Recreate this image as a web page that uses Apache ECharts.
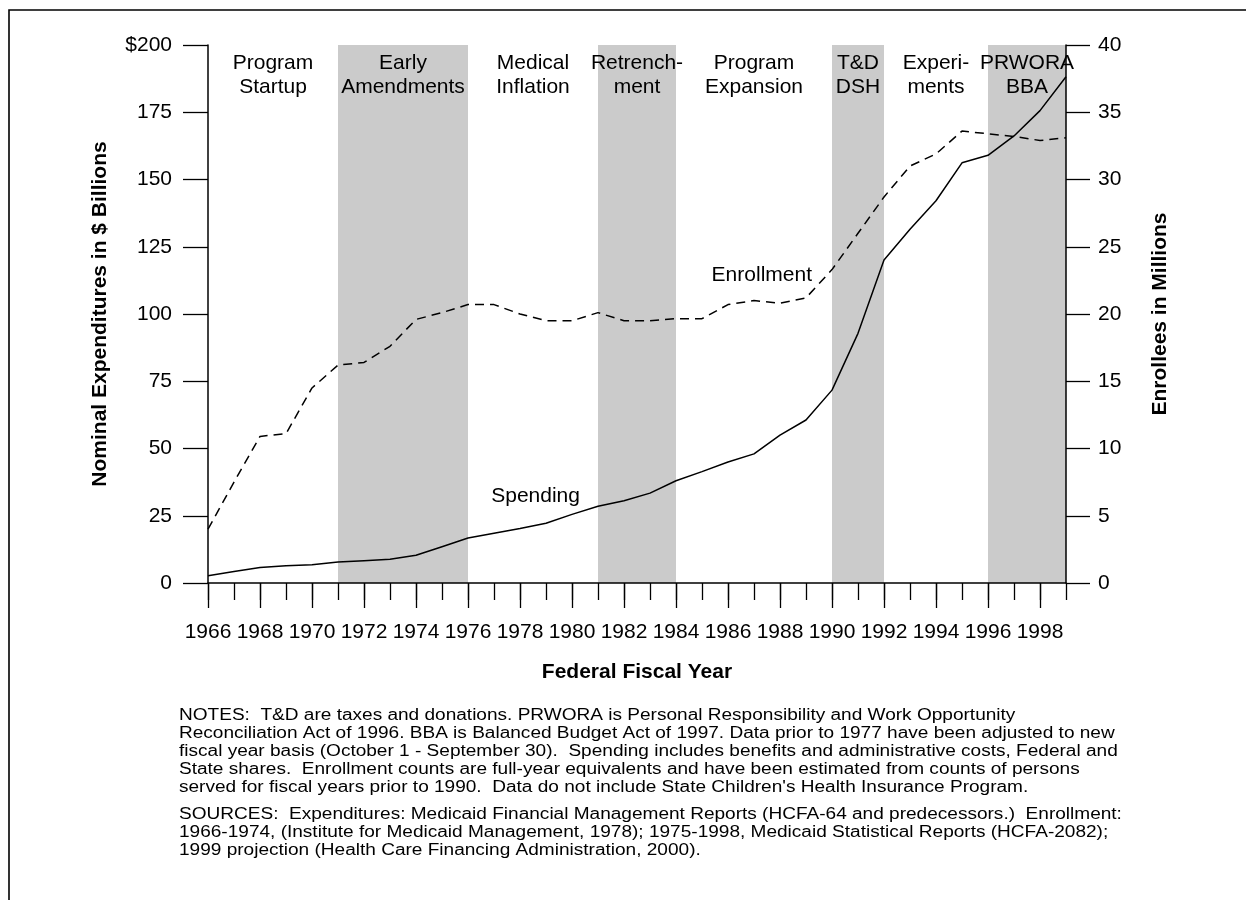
<!DOCTYPE html>
<html><head><meta charset="utf-8">
<script src="https://cdn.jsdelivr.net/npm/echarts@6/dist/echarts.min.js"></script>
<style>html,body{margin:0;padding:0;background:#fff}#c{width:1246px;height:900px}</style>
</head><body><div id="c"></div>
<script>
// ---------- data ----------
const years = [1966,1967,1968,1969,1970,1971,1972,1973,1974,1975,1976,1977,1978,1979,1980,1981,1982,
               1983,1984,1985,1986,1987,1988,1989,1990,1991,1992,1993,1994,1995,1996,1997,1998,1999];
// Nominal expenditures, $ billions (left axis)
const spending = [2.7,4.3,5.8,6.4,6.8,7.8,8.3,8.8,10.3,13.5,16.7,18.5,20.3,22.2,25.5,28.5,30.6,
                  33.4,38.0,41.4,45.0,48.0,55.0,60.6,71.7,92.8,120.1,131.5,142.1,156.2,159.0,166.2,175.6,188.2];
// Enrollees, millions (right axis)
const enrollment = [4.0,7.5,10.9,11.1,14.5,16.2,16.4,17.6,19.6,20.1,20.7,20.7,20.0,19.5,19.5,20.1,19.5,
                    19.5,19.65,19.65,20.7,21.0,20.8,21.2,23.3,26.0,28.7,31.0,31.9,33.6,33.4,33.2,32.9,33.1];
const leftTicks = [0,25,50,75,100,125,150,175,200];
const rightTicks = [0,5,10,15,20,25,30,35,40];
// policy periods
const periodStart = [1966,1971,1976,1981,1984,1990,1992,1996];
const periodEnd   = [1971,1976,1981,1984,1990,1992,1996,1999];
const periodName  = ['Program\nStartup','Early\nAmendments','Medical\nInflation','Retrench-\nment',
                     'Program\nExpansion','T&D\nDSH','Experi-\nments','PRWORA\nBBA'];
const periodShaded = [false,true,false,true,false,true,false,true];
// series annotation anchors (data units)
const spendingLabelAt = [1978.6, 32.3];
const enrollLabelAt = [1987.3, 22.9];

const notesText = [
 "NOTES:  T&D are taxes and donations. PRWORA is Personal Responsibility and Work Opportunity",
 "Reconciliation Act of 1996. BBA is Balanced Budget Act of 1997. Data prior to 1977 have been adjusted to new",
 "fiscal year basis (October 1 - September 30).  Spending includes benefits and administrative costs, Federal and",
 "State shares.  Enrollment counts are full-year equivalents and have been estimated from counts of persons",
 "served for fiscal years prior to 1990.  Data do not include State Children's Health Insurance Program."
];
const sourcesText = [
 "SOURCES:  Expenditures: Medicaid Financial Management Reports (HCFA-64 and predecessors.)  Enrollment:",
 "1966-1974, (Institute for Medicaid Management, 1978); 1975-1998, Medicaid Statistical Reports (HCFA-2082);",
 "1999 projection (Health Care Financing Administration, 2000)."
];

// ---------- chart ----------
const FONT = '"Liberation Sans", Arial, Helvetica, sans-serif';
const chart = echarts.init(document.getElementById('c'), null, {renderer: 'canvas'});

const areaData = periodStart.map((s, i) => [
  {xAxis: s,
   itemStyle: {color: periodShaded[i] ? '#cbcbcb' : 'rgba(0,0,0,0)'},
   label: {show: true, position: 'insideTop', distance: 6, formatter: periodName[i],
           color: '#000', fontSize: 21, lineHeight: 24, fontFamily: FONT, align: 'center'}},
  {xAxis: periodEnd[i]}
]);

const axisLineStyle = {color: '#000', width: 1.5};
const tickStyle = {color: '#000', width: 1.3};

const option = {
  animation: false,
  backgroundColor: '#fff',
  textStyle: {fontFamily: FONT},
  grid: {left: 208, right: 180, top: 45, bottom: 317, containLabel: false},
  xAxis: [
    {type: 'value', min: 1966, max: 1999, interval: 1, z: 5,
     axisLine: {show: true, lineStyle: axisLineStyle},
     axisTick: {show: true, length: 17, lineStyle: tickStyle},
     axisLabel: {show: false}, splitLine: {show: false},
     name: 'Federal Fiscal Year', nameLocation: 'middle', nameGap: 79,
     nameTextStyle: {fontWeight: 'bold', fontSize: 21, color: '#000', fontFamily: FONT}},
    {type: 'category', data: years.map(String), boundaryGap: false, position: 'bottom', z: 5,
     axisLine: {show: false},
     axisTick: {show: true, length: 25, lineStyle: tickStyle, interval: (i) => i % 2 === 0},
     axisLabel: {show: true, interval: (i) => i % 2 === 0, fontSize: 21, color: '#000', margin: 39, fontFamily: FONT},
     splitLine: {show: false}}
  ],
  yAxis: [
    {type: 'value', min: 0, max: 200, interval: 25, position: 'left', z: 5,
     axisLine: {show: true, lineStyle: axisLineStyle},
     axisTick: {show: true, length: 25, lineStyle: tickStyle},
     axisLabel: {fontSize: 21, color: '#000', margin: 36, fontFamily: FONT,
                 formatter: v => (v === leftTicks[leftTicks.length - 1] ? '$' + v : String(v))},
     splitLine: {show: false},
     name: 'Nominal Expenditures in $ Billions', nameLocation: 'middle', nameRotate: 90, nameGap: 97,
     nameTextStyle: {fontWeight: 'bold', fontSize: 21, color: '#000', fontFamily: FONT}},
    {type: 'value', min: 0, max: 40, interval: 5, position: 'right', z: 5,
     axisLine: {show: true, lineStyle: axisLineStyle},
     axisTick: {show: true, length: 24, lineStyle: tickStyle},
     axisLabel: {fontSize: 21, color: '#000', margin: 32, fontFamily: FONT},
     splitLine: {show: false},
     name: 'Enrollees in Millions', nameLocation: 'middle', nameRotate: 90, nameGap: 84,
     nameTextStyle: {fontWeight: 'bold', fontSize: 21, color: '#000', fontFamily: FONT}}
  ],
  series: [
    {type: 'line', name: 'periods', xAxisIndex: 0, yAxisIndex: 0, data: [], z: 1, silent: true,
     markArea: {silent: true, data: areaData}},
    {type: 'line', name: 'Spending', xAxisIndex: 0, yAxisIndex: 0, z: 3,
     data: years.map((y, i) => [y, spending[i]]), symbol: 'none',
     lineStyle: {color: '#000', width: 1.5}},
    {type: 'line', name: 'Enrollment', xAxisIndex: 0, yAxisIndex: 1, z: 3,
     data: years.map((y, i) => [y, enrollment[i]]), symbol: 'none',
     lineStyle: {color: '#000', width: 1.5, type: [9, 6]}}
  ],
  graphic: [
    {type: 'rect', id: 'frame', shape: {x: 9, y: 10, width: 1300, height: 1000},
     style: {fill: 'none', stroke: '#000', lineWidth: 1.6}, silent: true, z: 0},
    {type: 'text', id: 'notes', x: 179, y: 707, scaleX: 1.19, scaleY: 1,
     style: {text: notesText.join('\n'), font: '16px ' + FONT, fill: '#000', lineHeight: 18,
             textVerticalAlign: 'top', verticalAlign: 'top'}},
    {type: 'text', id: 'sources', x: 179, y: 806, scaleX: 1.19, scaleY: 1,
     style: {text: sourcesText.join('\n'), font: '16px ' + FONT, fill: '#000', lineHeight: 18,
             textVerticalAlign: 'top', verticalAlign: 'top'}}
  ]
};
chart.setOption(option);

const pS = chart.convertToPixel({xAxisIndex: 0, yAxisIndex: 0}, spendingLabelAt);
const pE = chart.convertToPixel({xAxisIndex: 0, yAxisIndex: 1}, enrollLabelAt);
chart.setOption({graphic: [
  {type: 'text', id: 'lblS', x: pS[0], y: pS[1], z: 10,
   style: {text: 'Spending', font: '21px ' + FONT, fill: '#000', align: 'center', verticalAlign: 'middle'}},
  {type: 'text', id: 'lblE', x: pE[0], y: pE[1], z: 10,
   style: {text: 'Enrollment', font: '21px ' + FONT, fill: '#000', align: 'center', verticalAlign: 'middle'}}
]});
</script>
</body></html>
